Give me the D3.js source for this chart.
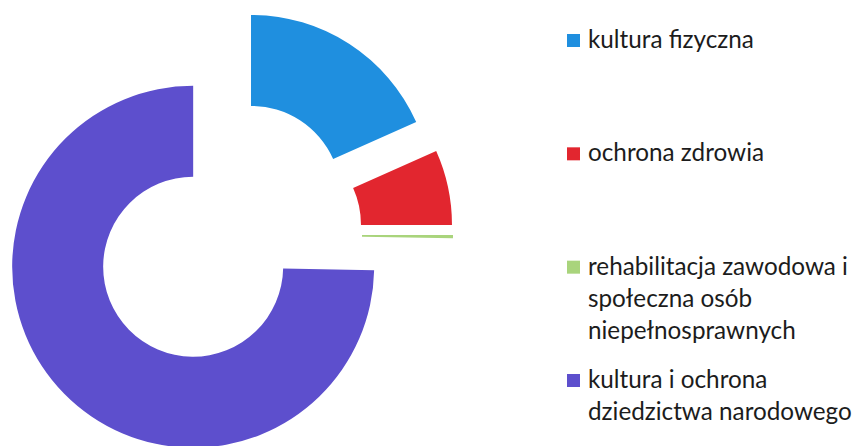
<!DOCTYPE html>
<html>
    <head>
        <title>Donut</title>
        <style>
        html, body{
            margin: 0;
            padding: 0;
            background: #ffffff;
        }
        svg{
            display: block;
        }
        text{
            font-family: Lato, "Noto Sans", sans-serif;
            fill: #1c1c1c;
        }
        </style>
    </head>
    <body>
        <svg width="855" height="446"></svg>

        <script src="https://cdnjs.cloudflare.com/ajax/libs/d3/7.8.5/d3.min.js"></script>
        <script>
            // share of each category (percent)
            let categories = [
                "kultura fizyczna",
                "ochrona zdrowia",
                "rehabilitacja zawodowa i społeczna osób niepełnosprawnych",
                "kultura i ochrona dziedzictwa narodowego"
            ];
            let values = [18.3, 6.7, 0.3, 74.7];
            let legendLines = [
                ["kultura fizyczna"],
                ["ochrona zdrowia"],
                ["rehabilitacja zawodowa i", "społeczna osób", "niepełnosprawnych"],
                ["kultura i ochrona", "dziedzictwa narodowego"]
            ];
            let colors = ["#1f8fdf", "#e2262f", "#a9d47c", "#5d4fcd"];

            let width = 855;
            let height = 446;
            let center = {x: 226, y: 234.5};
            let explode = 46;

            let svg = d3.select("svg");

            let pie = d3.pie()
                .sort(null)
                .value(d => d);

            let arc = d3.arc()
                .innerRadius(90)
                .outerRadius(181);

            let slices = pie(values);

            svg.append("g")
                .attr("transform", "translate(" + [center.x, center.y] + ")")
                .selectAll("path")
                .data(slices)
                .enter()
                .append("path")
                .attr("d", arc)
                .attr("fill", (d, i) => colors[i])
                .attr("transform", d => {
                    let mid = (d.startAngle + d.endAngle) / 2;
                    return "translate(" + [explode * Math.sin(mid), -explode * Math.cos(mid)] + ")";
                });

            // legend - rows spread evenly down the right side
            let legendX = 567;
            let rowY = d3.scaleLinear()
                .domain([0, categories.length - 1])
                .range([48, 388]);
            let lineH = 32;

            let legend = svg.append("g");
            let rows = legend.selectAll("g")
                .data(categories)
                .enter()
                .append("g")
                .attr("transform", (d, i) => "translate(" + [legendX, rowY(i)] + ")");

            rows.append("rect")
                .attr("x", 0)
                .attr("y", -14)
                .attr("width", 13)
                .attr("height", 13)
                .attr("fill", (d, i) => colors[i]);

            let labels = rows.append("text")
                .attr("x", 21)
                .attr("y", 0)
                .style("font-size", "20px");

            labels.selectAll("tspan")
                .data((d, i) => legendLines[i])
                .enter()
                .append("tspan")
                .attr("x", 21)
                .attr("y", (d, j) => j * lineH)
                .text(d => d);

            // fit font so the longest line spans like the reference (~264px)
            let longest = labels.filter((d, i) => i === 3).selectAll("tspan").filter((d, j) => j === 1);
            let w = longest.node().getComputedTextLength();
            let fs = 20 * 264 / w;
            labels.style("font-size", fs + "px");
        </script>
    </body>
</html>
